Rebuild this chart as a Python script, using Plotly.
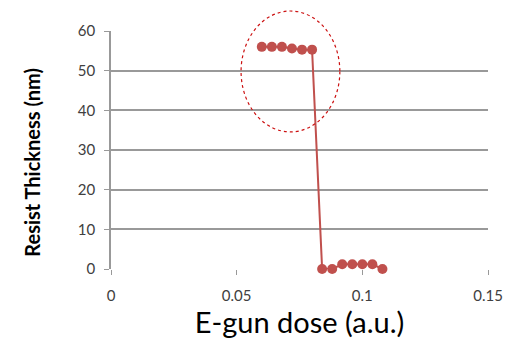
import plotly.graph_objects as go

dose = [0.060, 0.064, 0.068, 0.072, 0.076, 0.080,
        0.084, 0.088, 0.092, 0.096, 0.100, 0.104, 0.108]
thickness = [56.0, 56.0, 56.0, 55.6, 55.3, 55.3,
             0.0, 0.0, 1.2, 1.2, 1.2, 1.2, 0.0]

x_ticks = [0, 0.05, 0.1, 0.15]
x_tick_labels = ["0", "0.05", "0.1", "0.15"]
y_ticks = [0, 10, 20, 30, 40, 50, 60]

red = "#C0504D"

fig = go.Figure()
fig.add_trace(go.Scatter(
    x=dose, y=thickness, mode="lines+markers",
    line=dict(color=red, width=2),
    marker=dict(color=red, size=10),
    cliponaxis=False,
))

fig.add_shape(type="circle", xref="paper", yref="paper",
              x0=0.345, x1=0.607, y0=0.576, y1=1.084,
              line=dict(color="#CC1111", width=1.2, dash="dot"))

font_fam = "Lato, Open Sans, sans-serif"

fig.add_annotation(text="<b>Resist Thickness (nm)</b>", xref="paper", yref="paper",
                   x=-0.21, y=0.45, textangle=-90, showarrow=False,
                   xanchor="center", yanchor="middle",
                   font=dict(family=font_fam, size=20, color="black"))

fig.update_layout(
    width=514, height=348,
    margin=dict(l=111, r=26, t=31, b=79),
    plot_bgcolor="white", paper_bgcolor="white",
    showlegend=False,
    xaxis=dict(range=[0, 0.15], tickvals=x_ticks, ticktext=x_tick_labels,
               showgrid=False, zeroline=False, showline=False,
               ticks="outside", ticklen=5, tickcolor="#999999",
               ticklabelstandoff=8,
               tickfont=dict(family=font_fam, size=15, color="#404040"),
               title=dict(text="E-gun dose (a.u.)",
                          font=dict(family=font_fam, size=29, color="black"),
                          standoff=8)),
    yaxis=dict(range=[0, 60], tickvals=y_ticks,
               showgrid=True, gridcolor="#999999", gridwidth=1.5,
               zeroline=False, showline=True, linecolor="#999999", linewidth=1.5,
               ticks="outside", ticklen=5, tickcolor="#999999",
               ticklabelstandoff=6,
               tickfont=dict(family=font_fam, size=15, color="#404040")),
)

fig.write_html("out.html")
